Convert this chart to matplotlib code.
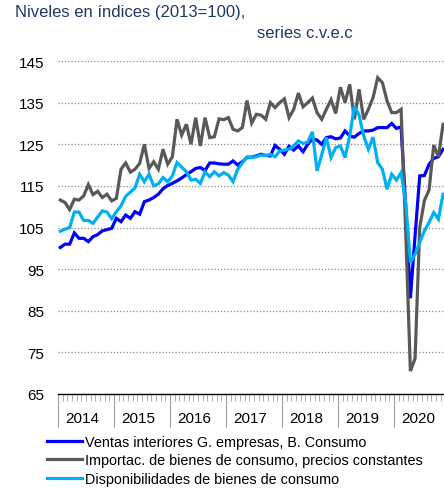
import numpy as np
import matplotlib
matplotlib.use("Agg")
import matplotlib.pyplot as plt

plt.rcParams['font.family'] = ['Liberation Sans', 'DejaVu Sans']

# monthly series, Jan 2014 .. Nov 2020 (index 2013=100)
years = ['2014', '2015', '2016', '2017', '2018', '2019', '2020']

ventas = [100.2, 101.0, 101.0, 103.7, 102.4, 102.4, 101.6, 102.8, 103.3, 104.2, 104.5, 104.8,
          107.2, 106.4, 108.0, 107.2, 108.8, 108.2, 111.2, 111.6, 112.2, 113.0, 114.3, 115.1,
          115.6, 116.2, 116.9, 117.7, 118.4, 119.2, 119.4, 118.7, 120.5, 120.5, 120.3, 120.2,
          120.2, 121.0, 120.0, 120.8, 121.8, 121.9, 122.2, 122.6, 122.3, 122.2, 124.7, 123.8,
          122.6, 124.5, 123.6, 124.6, 123.2, 125.0, 126.3, 126.0, 125.0, 126.6, 126.8, 126.3,
          126.5, 128.2, 127.0, 126.7, 127.6, 128.2, 128.2, 128.4, 129.0, 129.0, 129.0, 130.0,
          128.8, 129.2, 110.0, 88.0, 103.0, 117.4, 117.5, 120.2, 121.6, 122.0, 123.8]

importac = [111.6, 111.0, 109.3, 111.8, 111.6, 112.6, 115.3, 112.9, 113.7, 112.2, 113.0, 111.4,
            112.0, 119.0, 120.5, 118.3, 119.0, 120.4, 125.0, 119.2, 120.8, 119.0, 123.8, 120.2,
            122.0, 131.0, 127.2, 129.8, 125.0, 131.4, 124.6, 131.4, 126.6, 126.8, 131.1, 130.9,
            131.4, 128.6, 128.2, 129.0, 135.5, 130.1, 132.2, 132.0, 131.0, 135.0, 133.8, 135.0,
            135.9, 131.4, 133.4, 137.3, 134.0, 135.0, 136.1, 132.6, 131.0, 133.4, 135.7, 132.4,
            138.7, 135.0, 139.4, 131.0, 138.2, 131.0, 133.4, 136.2, 141.0, 139.8, 135.4, 132.6,
            132.6, 133.4, 104.0, 70.5, 73.5, 105.0, 111.5, 114.0, 124.8, 122.0, 129.8]

disponib = [104.1, 104.6, 105.0, 108.7, 108.7, 106.7, 106.7, 106.0, 107.5, 109.0, 108.7, 107.1,
            108.8, 110.2, 112.5, 113.5, 114.5, 117.8, 116.0, 117.8, 115.0, 115.5, 117.0, 116.0,
            117.4, 120.6, 119.5, 118.4, 116.4, 116.6, 115.6, 118.4, 117.2, 118.4, 117.4, 118.2,
            117.6, 116.0, 119.0, 120.5, 122.0, 121.8, 122.0, 122.4, 122.3, 122.6, 122.0, 123.4,
            123.6, 123.8, 124.6, 125.8, 125.2, 125.5, 128.0, 118.6, 122.5, 126.6, 121.8, 124.2,
            124.6, 121.8, 127.0, 134.2, 132.0, 127.0, 123.8, 126.7, 120.6, 119.0, 114.2, 117.8,
            116.4, 118.2, 111.0, 96.6, 98.6, 101.4, 104.2, 106.2, 108.6, 107.0, 113.0]

labels = ['Ventas interiores G. empresas, B. Consumo',
          'Importac. de bienes de consumo, precios constantes',
          'Disponibilidades de bienes de consumo']
colors = ['#0000ff', '#595959', '#00b0f0']

W, H = 444, 489
fig = plt.figure(figsize=(W / 100, H / 100), dpi=100)
ax = fig.add_axes([58 / W, 1 - 395 / H, 1 - 58 / W, (395 - 62) / H])

x = np.arange(len(ventas)) + 0.5
lines = []
for serie, c, lab in zip([ventas, importac, disponib], colors, labels):
    ln, = ax.plot(x, serie, color=c, lw=2.3, label=lab, solid_joinstyle='miter')
    lines.append(ln)

ax.set_ylim(65, 145)
ax.set_xlim(0, 82.7)
ax.set_yticks(np.arange(65, 146, 10))
ax.grid(axis='y', color='#8c8c8c', linestyle=(0, (1, 1.6)), lw=0.9)
ax.tick_params(axis='y', length=0, pad=10, labelsize=11)
ax.set_axisbelow(True)

ax.set_xticks(np.arange(0, 84, 12))
ax.set_xticks(np.arange(0, 83, 1), minor=True)
ax.tick_params(axis='x', which='major', length=24, width=0.8, color='#a0a0a0', labelbottom=False)
ax.tick_params(axis='x', which='minor', length=5, width=0.6, color='#a0a0a0')
for i, yr in enumerate(years):
    ax.text(12 * i + 5.2, -0.072, yr, transform=ax.get_xaxis_transform(),
            ha='center', va='center', fontsize=11)

for s in ['left', 'top', 'right']:
    ax.spines[s].set_visible(False)
ax.spines['bottom'].set_color('black')
ax.spines['bottom'].set_linewidth(1.0)

fig.text(15 / W, 1 - 13 / H, 'Niveles en índices (2013=100),', color='#1f3864',
         fontsize=12, va='center', ha='left')
fig.text(257 / W, 1 - 34 / H, 'series c.v.e.c', color='#1f3864',
         fontsize=12, va='center', ha='left')

fig.legend(handles=lines, loc='upper left', bbox_to_anchor=(47 / W, 1 - 436 / H),
           frameon=False, fontsize=10.4, handlelength=2.4, handletextpad=0.2,
           labelspacing=0.3, borderpad=0, borderaxespad=0)

fig.savefig('out.png', dpi=100)
